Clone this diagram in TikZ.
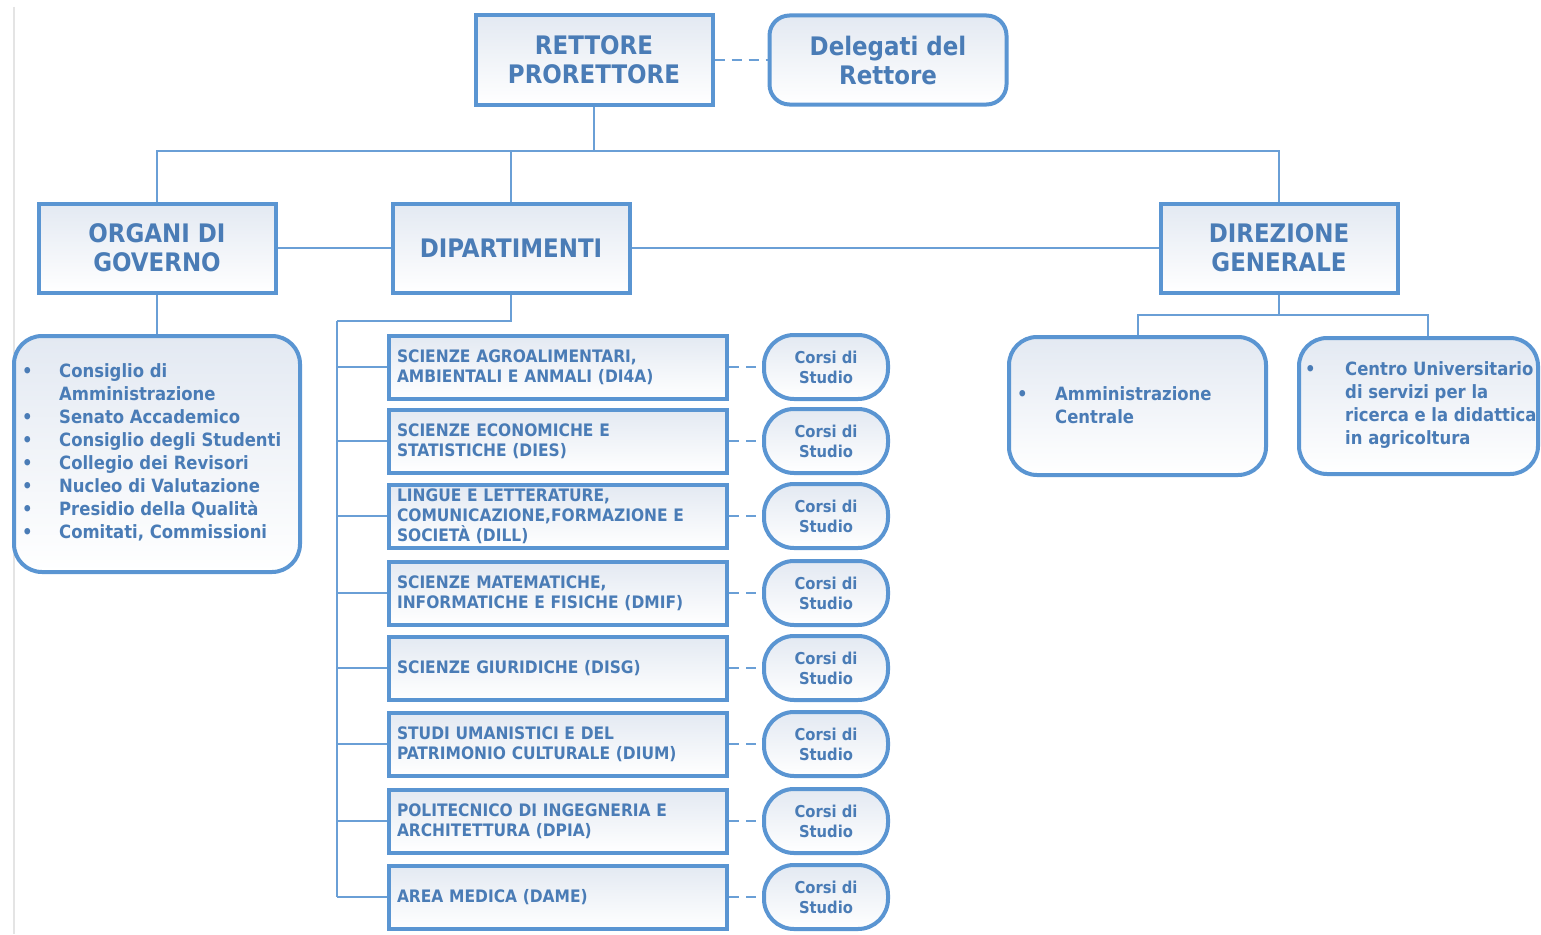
\documentclass[tikz,border=0pt]{standalone}
\usepackage{fontspec}
\setmainfont{DejaVu Sans Condensed}
\usetikzlibrary{calc}
\definecolor{bordc}{HTML}{5A95D2}
\definecolor{linec}{HTML}{6A9FD6}
\definecolor{txtc}{HTML}{4A7CB6}
\definecolor{shadeA}{HTML}{E3E9F2}
\definecolor{pagel}{HTML}{E4E4E4}
\newcommand{\headfont}{\fontsize{25.5}{29}\selectfont\bfseries}
\newcommand{\listfont}{\fontsize{18.3}{23}\selectfont\bfseries}
\newcommand{\deptfont}{\fontsize{17.2}{20}\selectfont\bfseries}
\newcommand{\corsifont}{\fontsize{16.4}{20}\selectfont\bfseries}
\newcommand{\bul}[1]{\makebox[#1][l]{•}}
\tikzset{
  boxbase/.style={draw=bordc, line width=4pt, top color=shadeA, bottom color=white, text=txtc, inner sep=0pt},
  headbox/.style={boxbase, rectangle, minimum width=237pt, minimum height=89pt, align=center, font=\headfont},
  headround/.style={headbox, rounded corners=20pt},
  listbox/.style={boxbase, rounded corners=28pt},
  listtext/.style={anchor=west, align=left, font=\listfont, text=txtc, inner sep=0pt},
  deptbox/.style={boxbase, rectangle, minimum width=338pt, minimum height=63pt, text width=322pt, inner xsep=8pt, align=left, font=\deptfont},
  corsibox/.style={boxbase, rounded corners=30pt, minimum width=124pt, minimum height=64pt, align=center, font=\corsifont},
  link/.style={draw=linec, line width=2pt},
  dlink/.style={link, dash pattern=on 10pt off 7pt},
}
\begin{document}
\begin{tikzpicture}[x=1pt,y=-1pt]
\useasboundingbox (0,0) rectangle (1541,934);
\fill[white] (0,0) rectangle (1541,934);
\draw[pagel, line width=1.5pt] (14,7) -- (14,934);

% top level
\node[headbox] (ret) at (594,60) {RETTORE\\PRORETTORE};
\node[headround] (del) at (888,60) {Delegati del\\Rettore};
\draw[dlink] (ret.east) -- (del.west);

% second level
\node[headbox] (org) at (157,248) {ORGANI DI\\GOVERNO};
\node[headbox] (dip) at (511,248) {DIPARTIMENTI};
\node[headbox] (dir) at (1279,248) {DIREZIONE\\GENERALE};

\coordinate (tbus) at (594,151);
\draw[link] (ret.south) -- (tbus);
\draw[link] (org.north) |- (tbus);
\draw[link] (dip.north) |- (tbus);
\draw[link] (dir.north) |- (tbus);
\draw[link] (org.east) -- (dip.west);
\draw[link] (dip.east) -- (dir.west);

% organi list
\node[listbox, minimum width=286pt, minimum height=236pt] (orgl) at (157,454) {};
\node[listtext] (orgt) at (22,452) {%
\bul{37pt}Consiglio di\\
\hspace*{37pt}Amministrazione\\
\bul{37pt}Senato Accademico\\
\bul{37pt}Consiglio degli Studenti\\
\bul{37pt}Collegio dei Revisori\\
\bul{37pt}Nucleo di Valutazione\\
\bul{37pt}Presidio della Qualità\\
\bul{37pt}Comitati, Commissioni};
\draw[link] (org.south) -- (orgl.north);

% direzione children
\node[listbox, minimum width=257pt, minimum height=138pt] (amm) at (1137.5,406) {};
\node[listtext] (ammt) at (1017,405) {%
\bul{38pt}Amministrazione\\
\hspace*{38pt}Centrale};
\node[listbox, minimum width=239pt, minimum height=136pt] (cen) at (1418.5,406) {};
\node[listtext] (cent) at (1305,405) {%
\bul{40pt}Centro Universitario\\
\hspace*{40pt}di servizi per la\\
\hspace*{40pt}ricerca e la didattica\\
\hspace*{40pt}in agricoltura};
\coordinate (dbus) at (1279,315);
\draw[link] (dir.south) -- (dbus);
\draw[link] (amm.north) |- (dbus);
\draw[link] ([xshift=9.5pt]cen.north) |- (dbus);

% departments
\coordinate (dtrunk) at (337,321);
\draw[link] (dip.south) |- (dtrunk);
\foreach \i/\y/\t in {
  1/367/{SCIENZE AGROALIMENTARI,\\AMBIENTALI E ANMALI (DI4A)},
  2/441/{SCIENZE ECONOMICHE E\\STATISTICHE (DIES)},
  3/516/{LINGUE E LETTERATURE,\\COMUNICAZIONE,FORMAZIONE E\\SOCIETÀ (DILL)},
  4/593/{SCIENZE MATEMATICHE,\\INFORMATICHE E FISICHE (DMIF)},
  5/668/{SCIENZE GIURIDICHE (DISG)},
  6/744/{STUDI UMANISTICI E DEL\\PATRIMONIO CULTURALE (DIUM)},
  7/821/{POLITECNICO DI INGEGNERIA E\\ARCHITETTURA (DPIA)},
  8/897/{AREA MEDICA (DAME)}}{
  \node[deptbox] (d\i) at (558,\y) {\t};
  \node[corsibox] (c\i) at (826,\y) {Corsi di\\Studio};
  \draw[dlink] (d\i.east) -- (c\i.west);
  \draw[link] (dtrunk |- d\i.west) -- (d\i.west);
}
\draw[link] (dtrunk) -- (dtrunk |- d8.west);
\end{tikzpicture}
\end{document}
